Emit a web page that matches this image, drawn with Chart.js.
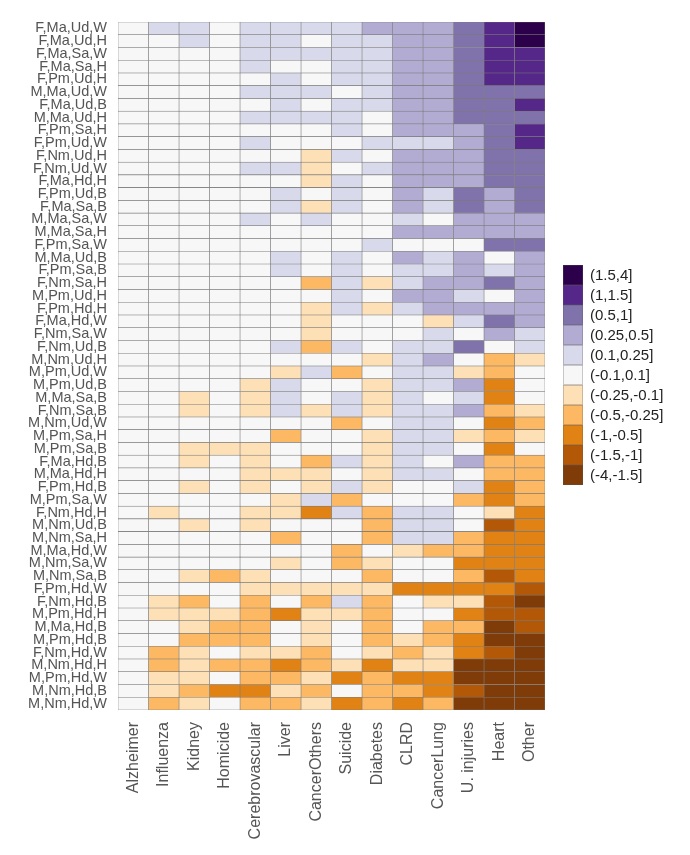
<!DOCTYPE html>
<html>
<head>
<meta charset="utf-8">
<script src="https://cdn.jsdelivr.net/npm/chart.js@4"></script>
<style>
  html, body { margin: 0; background: #fff; }
  #wrap { width: 690px; height: 855px; }
</style>
</head>
<body>
<div id="wrap"><canvas id="heat"></canvas></div>
<script>
const rowLabels = [
  'F,Ma,Ud,W', 'F,Ma,Ud,H', 'F,Ma,Sa,W', 'F,Ma,Sa,H', 'F,Pm,Ud,H', 'M,Ma,Ud,W', 'F,Ma,Ud,B', 'M,Ma,Ud,H', 'F,Pm,Sa,H',
  'F,Pm,Ud,W', 'F,Nm,Ud,H', 'F,Nm,Ud,W', 'F,Ma,Hd,H', 'F,Pm,Ud,B', 'F,Ma,Sa,B', 'M,Ma,Sa,W', 'M,Ma,Sa,H', 'F,Pm,Sa,W',
  'M,Ma,Ud,B', 'F,Pm,Sa,B', 'F,Nm,Sa,H', 'M,Pm,Ud,H', 'F,Pm,Hd,H', 'F,Ma,Hd,W', 'F,Nm,Sa,W', 'F,Nm,Ud,B', 'M,Nm,Ud,H',
  'M,Pm,Ud,W', 'M,Pm,Ud,B', 'M,Ma,Sa,B', 'F,Nm,Sa,B', 'M,Nm,Ud,W', 'M,Pm,Sa,H', 'M,Pm,Sa,B', 'F,Ma,Hd,B', 'M,Ma,Hd,H',
  'F,Pm,Hd,B', 'M,Pm,Sa,W', 'F,Nm,Hd,H', 'M,Nm,Ud,B', 'M,Nm,Sa,H', 'M,Ma,Hd,W', 'M,Nm,Sa,W', 'M,Nm,Sa,B', 'F,Pm,Hd,W',
  'F,Nm,Hd,B', 'M,Pm,Hd,H', 'M,Ma,Hd,B', 'M,Pm,Hd,B', 'F,Nm,Hd,W', 'M,Nm,Hd,H', 'M,Pm,Hd,W', 'M,Nm,Hd,B', 'M,Nm,Hd,W'
];

const causes = ['Alzheimer', 'Influenza', 'Kidney', 'Homicide', 'Cerebrovascular', 'Liver', 'CancerOthers',
  'Suicide', 'Diabetes', 'CLRD', 'CancerLung', 'U. injuries', 'Heart', 'Other'];

// one array per cause, rows in the order of rowLabels
const alzheimer = [
  0, 0, 0, 0, 0, 0, 0, 0, 0,
  0, 0, 0, 0, 0, 0, 0, 0, 0,
  0, 0, 0, 0, 0, 0, 0, 0, 0,
  0, 0, 0, 0, 0, 0, 0, 0, 0,
  0, 0, 0, 0, 0, 0, 0, 0, 0,
  0, 0, 0, 0, 0, 0, 0, 0, 0];
const influenza = [
  0.2, 0, 0, 0, 0, 0, 0, 0, 0,
  0, 0, 0, 0, 0, 0, 0, 0, 0,
  0, 0, 0, 0, 0, 0, 0, 0, 0,
  0, 0, 0, 0, 0, 0, 0, 0, 0,
  0, 0, -0.2, 0, 0, 0, 0, 0, 0,
  -0.2, -0.2, 0, 0, -0.4, -0.4, -0.2, -0.2, -0.4];
const kidney = [
  0.2, 0.2, 0, 0, 0, 0, 0, 0, 0,
  0, 0, 0, 0, 0, 0, 0, 0, 0,
  0, 0, 0, 0, 0, 0, 0, 0, 0,
  0, 0, -0.2, -0.2, 0, 0, -0.2, -0.2, 0,
  -0.2, 0, 0, -0.2, 0, 0, 0, -0.2, 0,
  -0.4, -0.2, -0.2, -0.4, -0.2, -0.2, -0.2, -0.4, -0.2];
const homicide = [
  0, 0, 0, 0, 0, 0, 0, 0, 0,
  0, 0, 0, 0, 0, 0, 0, 0, 0,
  0, 0, 0, 0, 0, 0, 0, 0, 0,
  0, 0, 0, 0, 0, 0, -0.2, 0, 0,
  0, 0, 0, 0, 0, 0, 0, -0.4, 0,
  0, -0.2, -0.4, -0.4, 0, -0.4, 0, -0.7, 0];
const cerebrovascular = [
  0.2, 0.2, 0.2, 0.2, 0, 0.2, 0, 0.2, 0,
  0.2, 0, 0.2, 0, 0, 0, 0.2, 0, 0,
  0, 0, 0, 0, 0, 0, 0, 0, 0,
  0, -0.2, -0.2, -0.2, 0, 0, -0.2, -0.2, -0.2,
  -0.2, 0, -0.2, -0.2, 0, 0, 0, -0.2, -0.2,
  -0.4, -0.4, -0.4, -0.4, -0.2, -0.4, -0.4, -0.7, -0.4];
const liver = [
  0.2, 0.2, 0.2, 0, 0.2, 0.2, 0.2, 0.2, 0,
  0, 0, 0.2, 0, 0.2, 0.2, 0, 0, 0,
  0.2, 0.2, 0, 0, 0, 0, 0, 0.2, 0,
  -0.2, 0.2, 0.2, 0.2, 0, -0.4, 0, 0, -0.2,
  0, -0.2, -0.2, 0, -0.4, 0, -0.2, 0, -0.2,
  0, -0.7, 0, 0, -0.2, -0.7, -0.4, -0.2, -0.4];
const cancerOthers = [
  0.2, 0, 0.2, 0, 0, 0.2, 0, 0.2, 0,
  0, -0.2, -0.2, -0.2, 0, -0.2, 0.2, 0, 0,
  0, 0, -0.4, 0, -0.2, -0.2, -0.2, -0.4, 0,
  0.2, 0, 0, -0.2, 0, 0, 0, -0.4, -0.2,
  -0.2, 0.2, -0.7, 0, 0, 0, 0, 0, -0.2,
  -0.4, -0.2, -0.2, -0.2, -0.4, -0.4, -0.2, -0.4, -0.2];
const suicide = [
  0.2, 0.2, 0.2, 0.2, 0.2, 0, 0.2, 0.2, 0.2,
  0, 0.2, 0, 0.2, 0.2, 0.2, 0, 0, 0,
  0.2, 0.2, 0.2, 0.2, 0.2, 0, 0, 0.2, 0,
  -0.4, 0, 0.2, 0.2, -0.4, 0, 0, 0.2, 0,
  0.2, -0.4, 0.2, 0, 0, -0.4, -0.4, 0, -0.2,
  0.2, -0.2, 0, 0, 0, -0.2, -0.7, 0, -0.7];
const diabetes = [
  0.4, 0.2, 0.2, 0.2, 0.2, 0.2, 0.2, 0, 0,
  0.2, 0, 0.2, 0, 0, 0, 0, 0, 0.2,
  0, 0, -0.2, 0, -0.2, 0, 0, 0, -0.2,
  0, -0.2, -0.2, -0.2, 0, -0.2, -0.2, -0.2, -0.2,
  -0.2, 0, -0.4, -0.4, -0.4, 0, -0.2, -0.4, -0.2,
  -0.4, -0.4, -0.4, -0.4, -0.2, -0.7, -0.4, -0.4, -0.4];
const clrd = [
  0.4, 0.4, 0.4, 0.4, 0.4, 0.4, 0.4, 0.4, 0.4,
  0.2, 0.4, 0.4, 0.4, 0.4, 0.4, 0.2, 0.4, 0,
  0.4, 0.2, 0.2, 0.4, 0.2, 0, 0, 0.2, 0.2,
  0.2, 0.2, 0.2, 0.2, 0.2, 0.2, 0.2, 0.2, 0.2,
  0, 0, 0.2, 0.2, 0.2, -0.2, 0, 0, -0.7,
  0, 0, 0, -0.2, -0.4, -0.2, -0.7, -0.4, -0.7];
const cancerLung = [
  0.4, 0.4, 0.4, 0.4, 0.4, 0.4, 0.4, 0.4, 0.4,
  0.2, 0.4, 0.4, 0.4, 0.2, 0.2, 0, 0.4, 0,
  0.2, 0.2, 0.4, 0.4, 0.4, -0.2, 0.2, 0.2, 0.4,
  0.2, 0.2, 0, 0.2, 0.2, 0.2, 0.2, 0, 0.2,
  0, 0, 0.2, 0.2, 0.2, -0.4, 0, 0, -0.7,
  -0.2, 0, -0.4, -0.4, -0.2, -0.2, -0.7, -0.7, -0.4];
const uInjuries = [
  0.7, 0.7, 0.7, 0.7, 0.7, 0.7, 0.7, 0.7, 0.4,
  0.4, 0.4, 0.4, 0.4, 0.7, 0.7, 0.4, 0.4, 0,
  0.4, 0.4, 0.4, 0.2, 0.4, 0.2, 0, 0.7, 0,
  -0.2, 0.4, 0.2, 0.4, 0, -0.2, 0, 0.4, 0,
  0.2, -0.4, 0, 0, -0.4, -0.4, -0.7, -0.4, -0.7,
  -0.2, -0.7, -0.4, -0.7, -0.7, -2, -2, -1.2, -2];
const heart = [
  1.2, 1.2, 1.2, 1.2, 1.2, 0.7, 0.7, 0.7, 0.7,
  0.7, 0.7, 0.7, 0.7, 0.4, 0.4, 0.4, 0.4, 0.7,
  0, 0.2, 0.7, 0, 0.4, 0.7, 0.4, 0, -0.4,
  -0.4, -0.7, -0.7, -0.4, -0.7, -0.4, -0.7, -0.4, -0.4,
  -0.7, -0.7, -0.2, -1.2, -0.7, -0.7, -0.7, -1.2, -0.7,
  -1.2, -1.2, -2, -2, -1.2, -2, -2, -2, -2];
const other = [
  2, 2, 1.2, 1.2, 1.2, 0.7, 1.2, 0.7, 1.2,
  1.2, 0.7, 0.7, 0.7, 0.7, 0.7, 0.4, 0.4, 0.7,
  0.4, 0.4, 0.4, 0.4, 0.4, 0.4, 0.2, 0.2, -0.2,
  0, 0, 0, -0.2, -0.4, -0.2, 0, -0.4, -0.4,
  -0.4, -0.4, -0.7, -0.7, -0.7, -0.7, -0.7, -0.7, -1.2,
  -2, -1.2, -1.2, -2, -2, -2, -2, -2, -2];

const columns = [alzheimer, influenza, kidney, homicide, cerebrovascular, liver, cancerOthers,
  suicide, diabetes, clrd, cancerLung, uInjuries, heart, other];

// class breaks (a,b] and their colours, low to high
const breaks = [-4, -1.5, -1, -0.5, -0.25, -0.1, 0.1, 0.25, 0.5, 1, 1.5, 4];
const binLabels = ['(-4,-1.5]', '(-1.5,-1]', '(-1,-0.5]', '(-0.5,-0.25]', '(-0.25,-0.1]', '(-0.1,0.1]',
  '(0.1,0.25]', '(0.25,0.5]', '(0.5,1]', '(1,1.5]', '(1.5,4]'];
const binColors = ['#7f3b08', '#b35806', '#e08214', '#fdb863', '#fee0b6', '#f7f7f7',
  '#d8daeb', '#b2abd2', '#8073ac', '#542788', '#2d004b'];

function colorFor(v) {
  for (let i = 1; i < breaks.length; i++) {
    if (v <= breaks[i]) return binColors[i - 1];
  }
  return binColors[binColors.length - 1];
}

const binLegend = {
  id: 'binLegend',
  afterDraw(chart) {
    const { ctx, chartArea } = chart;
    const size = 20;
    const x = chartArea.right + 18;
    let y = (chartArea.top + chartArea.bottom) / 2 + 9 - size * binColors.length / 2;
    ctx.save();
    ctx.font = '15px "Liberation Sans", Arial, sans-serif';
    ctx.textBaseline = 'middle';
    for (let i = binColors.length - 1; i >= 0; i--) {
      ctx.fillStyle = binColors[i];
      ctx.fillRect(x, y, size, size);
      ctx.strokeStyle = 'rgba(90,90,90,0.5)';
      ctx.lineWidth = 0.6;
      ctx.strokeRect(x + 0.3, y + 0.3, size - 0.6, size - 0.6);
      ctx.fillStyle = '#222';
      ctx.fillText(binLabels[i], x + size + 7, y + size / 2 + 1);
      y += size;
    }
    ctx.restore();
  }
};

const datasets = causes.map((cause, c) => ({
  label: cause,
  data: rowLabels.map(() => 1),
  backgroundColor: columns[c].map(colorFor),
  borderColor: '#7a7a7a',
  borderWidth: 0.6,
  borderSkipped: false,
  categoryPercentage: 1,
  barPercentage: 1
}));

new Chart(document.getElementById('heat'), {
  type: 'bar',
  data: { labels: rowLabels, datasets: datasets },
  options: {
    indexAxis: 'y',
    responsive: true,
    maintainAspectRatio: false,
    animation: false,
    layout: { padding: { top: 22, right: 145, left: 0, bottom: 0 } },
    plugins: { legend: { display: false }, tooltip: { enabled: false } },
    scales: {
      x: {
        type: 'linear',
        stacked: true,
        min: 0,
        max: causes.length,
        grid: { display: false },
        border: { display: false },
        afterBuildTicks: (scale) => { scale.ticks = causes.map((c, i) => ({ value: i + 0.5 })); },
        afterFit: (scale) => { scale.height = 145; },
        ticks: {
          autoSkip: false,
          minRotation: 90,
          maxRotation: 90,
          padding: 4,
          color: '#555',
          font: { family: '"Liberation Sans", Arial, sans-serif', size: 16 },
          callback: (v) => causes[Math.floor(v)]
        }
      },
      y: {
        stacked: true,
        grid: { display: false },
        border: { display: false },
        afterFit: (scale) => { scale.width = 118; },
        ticks: {
          autoSkip: false,
          padding: 3,
          color: '#555',
          font: { family: '"Liberation Sans", Arial, sans-serif', size: 14.5 }
        }
      }
    }
  },
  plugins: [binLegend]
});
</script>
</body>
</html>
